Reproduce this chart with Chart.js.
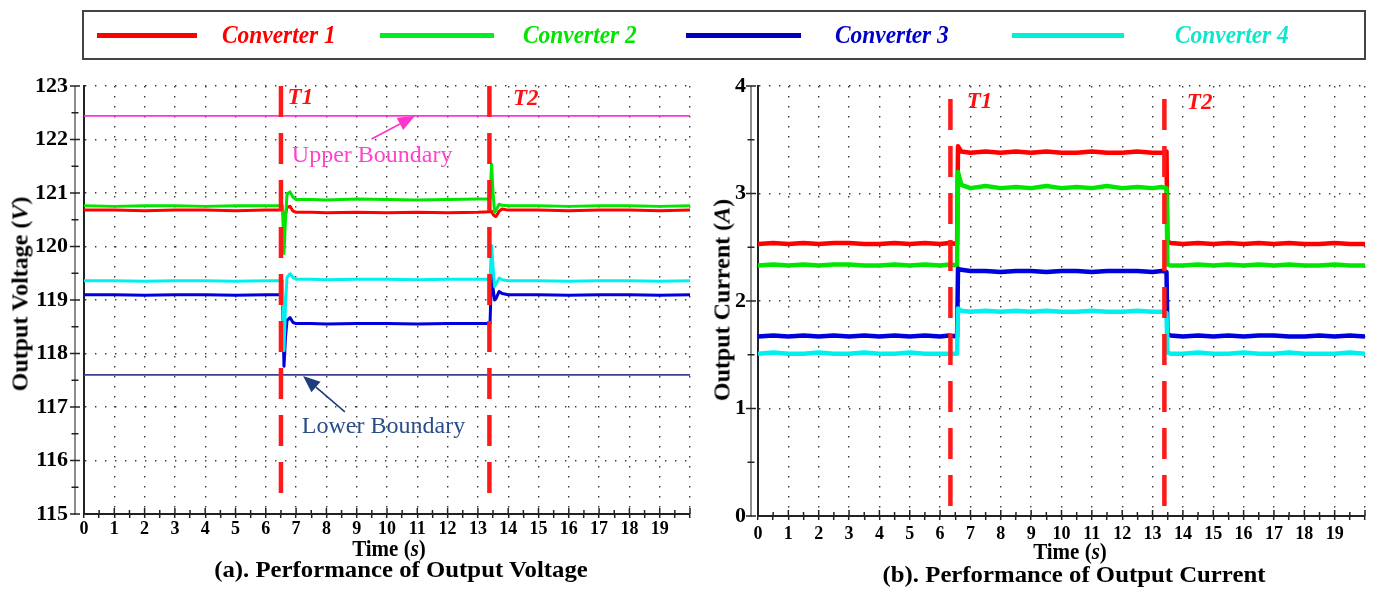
<!DOCTYPE html>
<html>
<head>
<meta charset="utf-8">
<script src="https://cdn.jsdelivr.net/npm/chart.js@4.4.1/dist/chart.umd.min.js"></script>
<style>
  body { margin: 0; background: #fff; width: 1376px; height: 594px; overflow: hidden; position: relative;
         font-family: "Liberation Serif", "Times New Roman", serif; }
  canvas { position: absolute; top: 0; }
  #cv1 { left: 0; }
  #cv2 { left: 700px; }
  #legend { position: absolute; left: 82px; top: 10px; width: 1280px; height: 46px; border: 2px solid #444; }
  #legend .ln { position: absolute; top: 21px; height: 5px; }
  #legend .lt { position: absolute; top: 8px; font: italic bold 26px "Liberation Serif", serif; line-height: 30px;
                white-space: nowrap; transform: scaleX(0.9); transform-origin: left center; }
  .ytitle, .xtitle, .caption { position: absolute; white-space: nowrap; font-weight: bold; color: #000; }
  .ytitle { font-size: 24px; transform: translate(-50%, -50%) rotate(-90deg); }
  .xtitle { font-size: 21px; transform: translate(-50%, -50%) scaleY(1.1); }
  .caption { font-size: 21px; transform: translate(-50%, -50%) scale(1.18, 1.1); }
</style>
</head>
<body>
<canvas id="cv1" width="700" height="594"></canvas>
<canvas id="cv2" width="676" height="594"></canvas>
<div id="legend"></div>
<div class="ytitle" style="left:20px;top:294px">Output Voltage (<i>V</i>)</div>
<div class="ytitle" style="left:722px;top:300px">Output Current (<i>A</i>)</div>
<div class="xtitle" style="left:389px;top:549px">Time (<i>s</i>)</div>
<div class="xtitle" style="left:1070px;top:552px">Time (<i>s</i>)</div>
<div class="caption" style="left:401px;top:570px">(a). Performance of Output Voltage</div>
<div class="caption" style="left:1074px;top:575px">(b). Performance of Output Current</div>
<script>
var seriesNames = ["Converter 1", "Converter 2", "Converter 3", "Converter 4"];

// output voltage
var timeV = [0, 1, 2, 3, 4, 5, 6, 6.5, 6.55, 6.6, 6.65, 6.7, 6.8, 6.9, 7, 7.5, 8, 9, 10, 11, 12, 13,
             13.4, 13.45, 13.5, 13.55, 13.6, 13.7, 13.8, 14, 15, 16, 17, 18, 19, 20];
var voltConv1 = [120.68, 120.68, 120.67, 120.68, 120.68, 120.67, 120.68, 120.68, 120.68, 120.48, 120.6, 120.74,
                 120.75, 120.66, 120.64, 120.64, 120.63, 120.64, 120.63, 120.64, 120.63, 120.64,
                 120.65, 120.66, 120.6, 120.57, 120.56, 120.66, 120.7, 120.68, 120.68, 120.67, 120.68, 120.68, 120.67, 120.68];
var voltConv2 = [120.76, 120.75, 120.76, 120.76, 120.75, 120.76, 120.76, 120.76, 120.76, 119.87, 120.5, 120.98,
                 121.02, 120.92, 120.88, 120.88, 120.87, 120.89, 120.88, 120.87, 120.88, 120.89,
                 120.89, 121.54, 121.0, 120.64, 120.68, 120.79, 120.77, 120.76, 120.76, 120.75, 120.76, 120.76, 120.75, 120.76];
var voltConv3 = [119.1, 119.1, 119.09, 119.1, 119.1, 119.09, 119.1, 119.1, 119.1, 117.76, 118.3, 118.62,
                 118.67, 118.58, 118.56, 118.56, 118.55, 118.56, 118.56, 118.55, 118.56, 118.56,
                 118.56, 119.47, 119.22, 119.0, 119.03, 119.16, 119.12, 119.1, 119.1, 119.09, 119.1, 119.1, 119.09, 119.1];
var voltConv4 = [119.36, 119.36, 119.35, 119.36, 119.36, 119.35, 119.36, 119.36, 119.36, 118.05, 118.9, 119.42,
                 119.49, 119.42, 119.39, 119.39, 119.38, 119.39, 119.39, 119.38, 119.39, 119.39,
                 119.39, 120.02, 119.62, 119.25, 119.3, 119.41, 119.38, 119.36, 119.36, 119.35, 119.36, 119.36, 119.35, 119.36];
var boundTime = [0, 20];
var upperBound = [122.44, 122.44];
var lowerBound = [117.6, 117.6];
var switchTimesV = [6.5, 13.38];

// output current
var timeI = [0, 0.5, 1, 1.5, 2, 2.5, 3, 3.5, 4, 4.5, 5, 5.5, 6, 6.3, 6.56, 6.59, 6.7,
             7, 7.5, 8, 8.5, 9, 9.5, 10, 10.5, 11, 11.5, 12, 12.5, 13, 13.3, 13.46, 13.49, 13.6,
             14, 14.5, 15, 15.5, 16, 16.5, 17, 17.5, 18, 18.5, 19, 19.5, 20];
var curConv1 = [2.53, 2.54, 2.53, 2.54, 2.53, 2.54, 2.54, 2.53, 2.53, 2.54, 2.53, 2.54, 2.53, 2.54, 2.53, 3.44, 3.39,
                3.38, 3.39, 3.38, 3.39, 3.38, 3.39, 3.38, 3.38, 3.39, 3.38, 3.38, 3.39, 3.38, 3.38, 3.39, 2.55, 2.54,
                2.53, 2.54, 2.53, 2.54, 2.53, 2.54, 2.53, 2.54, 2.53, 2.53, 2.54, 2.53, 2.53];
var curConv2 = [2.33, 2.34, 2.33, 2.34, 2.33, 2.34, 2.34, 2.33, 2.33, 2.34, 2.33, 2.34, 2.33, 2.34, 2.33, 3.2, 3.08,
                3.05, 3.07, 3.05, 3.06, 3.05, 3.07, 3.05, 3.06, 3.05, 3.07, 3.05, 3.06, 3.05, 3.06, 3.05, 2.34, 2.33,
                2.33, 2.34, 2.33, 2.34, 2.33, 2.34, 2.33, 2.34, 2.33, 2.33, 2.34, 2.33, 2.33];
var curConv3 = [1.67, 1.68, 1.67, 1.68, 1.67, 1.68, 1.67, 1.68, 1.67, 1.68, 1.67, 1.68, 1.67, 1.68, 1.67, 2.3, 2.29,
                2.28, 2.28, 2.27, 2.28, 2.28, 2.27, 2.28, 2.28, 2.27, 2.28, 2.28, 2.28, 2.27, 2.28, 2.27, 1.69, 1.68,
                1.67, 1.68, 1.67, 1.68, 1.67, 1.68, 1.68, 1.67, 1.67, 1.68, 1.67, 1.68, 1.67];
var curConv4 = [1.51, 1.52, 1.51, 1.51, 1.52, 1.51, 1.51, 1.52, 1.51, 1.51, 1.52, 1.51, 1.51, 1.51, 1.51, 1.93, 1.91,
                1.90, 1.91, 1.90, 1.91, 1.90, 1.91, 1.90, 1.90, 1.91, 1.90, 1.90, 1.91, 1.90, 1.90, 1.89, 1.52, 1.51,
                1.51, 1.52, 1.51, 1.51, 1.52, 1.51, 1.51, 1.52, 1.51, 1.51, 1.51, 1.52, 1.51];
var switchTimesI = [6.34, 13.39];

var traceColors = ["#ff0000", "#00e600", "#0000dd", "#00f0f0"];
var legendText = ["#ff0000", "#00e600", "#0000c8", "#10e6cc"];
var legendLine = ["#ff0000", "#00ee22", "#0000c0", "#00f0d8"];
var legendSpots = [[13, 100, 138], [296, 114, 439], [602, 115, 751], [928, 112, 1091]];

var serif = '"Liberation Serif", "Times New Roman", serif';

// legend box spanning both panels
var legend = document.getElementById("legend");
seriesNames.forEach(function (name, i) {
  var s = legendSpots[i];
  legend.insertAdjacentHTML("beforeend",
    '<span class="ln" style="left:' + s[0] + 'px;width:' + s[1] + 'px;background:' + legendLine[i] + '"></span>' +
    '<span class="lt" style="left:' + s[2] + 'px;color:' + legendText[i] + '">' + name + '</span>');
});

function pts(xs, ys) {
  return xs.map(function (x, i) { return { x: x, y: ys[i] }; });
}

// grey rule with cross ticks left of the frame, inner half of x ticks, arrows and notes
var figNotes = {
  id: "figNotes",
  afterDraw: function (chart, args, opts) {
    var ctx = chart.ctx, xs = chart.scales.x, ys = chart.scales.y, area = chart.chartArea;
    ctx.save();
    var gx = area.left - opts.rule;
    ctx.strokeStyle = "#8c8c8c";
    ctx.lineWidth = 2;
    ctx.beginPath(); ctx.moveTo(gx, area.top); ctx.lineTo(gx, area.bottom + 1); ctx.stroke();
    ctx.strokeStyle = "#222";
    ctx.lineWidth = 1.5;
    ys.ticks.forEach(function (t) {
      var py = ys.getPixelForValue(t.value), len = t.value % 1 === 0 ? 5 : 3.5;
      ctx.beginPath(); ctx.moveTo(gx - len, py); ctx.lineTo(gx + len, py); ctx.stroke();
    });
    xs.ticks.forEach(function (t) {
      var px = xs.getPixelForValue(t.value), len = t.value % 1 === 0 ? 6 : 4;
      ctx.beginPath(); ctx.moveTo(px, area.bottom); ctx.lineTo(px, area.bottom - len); ctx.stroke();
    });
    (opts.arrows || []).forEach(function (a) {
      var x1 = xs.getPixelForValue(a.from[0]), y1 = ys.getPixelForValue(a.from[1]);
      var x2 = xs.getPixelForValue(a.to[0]), y2 = ys.getPixelForValue(a.to[1]);
      var ang = Math.atan2(y2 - y1, x2 - x1), hl = 17, hw = 7;
      var bx = x2 - hl * Math.cos(ang), by = y2 - hl * Math.sin(ang);
      ctx.strokeStyle = a.color; ctx.fillStyle = a.color; ctx.lineWidth = 1.6;
      ctx.beginPath(); ctx.moveTo(x1, y1); ctx.lineTo(bx, by); ctx.stroke();
      ctx.beginPath();
      ctx.moveTo(x2, y2);
      ctx.lineTo(bx + hw * Math.sin(ang), by - hw * Math.cos(ang));
      ctx.lineTo(bx - hw * Math.sin(ang), by + hw * Math.cos(ang));
      ctx.closePath(); ctx.fill();
    });
    (opts.labels || []).forEach(function (l) {
      ctx.font = l.font;
      ctx.fillStyle = l.color;
      ctx.textAlign = "left";
      ctx.textBaseline = l.base || "alphabetic";
      ctx.fillText(l.text, xs.getPixelForValue(l.at[0]), ys.getPixelForValue(l.at[1]));
    });
    ctx.restore();
  }
};

function panel(canvasId, cfg) {
  var gridColor = function (c) { return c.tick && c.tick.value % 1 === 0 ? "#3a3a3a" : "rgba(0,0,0,0)"; };
  var datasets = cfg.traces.map(function (tr, i) {
    return { label: seriesNames[i], data: pts(cfg.time, tr), borderColor: traceColors[i],
             borderWidth: cfg.widths[i], order: cfg.orders[i] };
  });
  cfg.extras.forEach(function (d) { datasets.push(d); });
  cfg.switches.forEach(function (t) {
    datasets.push({ data: [{ x: t, y: cfg.dashSpan[0] }, { x: t, y: cfg.dashSpan[1] }], borderColor: "#ff1a1a",
                    borderWidth: 4.5, borderDash: [31, 16], borderCapStyle: "butt", order: 0 });
  });
  return new Chart(document.getElementById(canvasId), {
    type: "line",
    data: { datasets: datasets },
    options: {
      responsive: false,
      animation: false,
      events: [],
      layout: { padding: cfg.padding },
      elements: { point: { radius: 0 }, line: { tension: 0, borderJoinStyle: "round" } },
      plugins: { legend: { display: false }, tooltip: { enabled: false }, figNotes: cfg.notes },
      scales: {
        x: {
          type: "linear", min: 0, max: 20,
          afterFit: function (s) { s.height = cfg.xHeight; },
          ticks: { stepSize: 0.5, autoSkip: false, maxRotation: 0, minRotation: 0, padding: cfg.xPad, color: "#000",
                   font: { family: serif, size: 18, weight: "bold" },
                   callback: function (v) { return v % 1 === 0 && v < 20 ? v : ""; } },
          grid: { color: gridColor, lineWidth: 1.4, tickLength: 4, tickColor: "#222", tickWidth: 1.5 },
          border: { display: true, color: "#222", width: 2, dash: [1.4, 8.6] }
        },
        y: {
          min: cfg.yRange[0], max: cfg.yRange[1],
          afterFit: function (s) { s.width = cfg.yWidth; },
          ticks: { stepSize: 0.5, autoSkip: false, padding: cfg.yPad, color: "#000",
                   font: { family: serif, size: 22, weight: "bold" },
                   callback: function (v) { return v % 1 === 0 ? v : ""; } },
          grid: { color: gridColor, lineWidth: 1.4, drawTicks: false },
          border: { display: true, color: "#222", width: 2, dash: [1.4, 8.6] }
        }
      }
    },
    plugins: [figNotes]
  });
}

var noteFont = "24px " + serif;
var markFont = "italic bold 23px " + serif;

panel("cv1", {
  time: timeV,
  traces: [voltConv1, voltConv2, voltConv3, voltConv4],
  widths: [3, 3, 3, 3],
  orders: [4, 3, 2, 1],
  extras: [
    { data: pts(boundTime, upperBound), borderColor: "#ff33dd", borderWidth: 1.8, order: 5 },
    { data: pts(boundTime, lowerBound), borderColor: "#3a3f96", borderWidth: 1.8, order: 5 }
  ],
  switches: switchTimesV,
  dashSpan: [123, 115.3],
  yRange: [115, 123],
  padding: { left: 0, top: 86, right: 10, bottom: 0 },
  yWidth: 84, xHeight: 80, xPad: 1, yPad: 16,
  notes: {
    rule: 9,
    arrows: [
      { from: [9.49, 122.01], to: [10.92, 122.44], color: "#ff33cc" },
      { from: [8.61, 116.91], to: [7.23, 117.58], color: "#1f3d7a" }
    ],
    labels: [
      { text: "T1", at: [6.72, 122.78], font: markFont, color: "#ff1010", base: "middle" },
      { text: "T2", at: [14.16, 122.76], font: markFont, color: "#ff1010", base: "middle" },
      { text: "Upper Boundary", at: [6.86, 121.58], font: noteFont, color: "#ff44cc" },
      { text: "Lower Boundary", at: [7.19, 116.51], font: noteFont, color: "#2a4d8a" }
    ]
  }
});

panel("cv2", {
  time: timeI,
  traces: [curConv1, curConv2, curConv3, curConv4],
  widths: [4.5, 4.5, 4.5, 4.5],
  orders: [4, 3, 2, 1],
  extras: [],
  switches: switchTimesI,
  dashSpan: [3.88, 0.07],
  yRange: [0, 4],
  padding: { left: 0, top: 86, right: 11, bottom: 0 },
  yWidth: 58, xHeight: 78, xPad: 4, yPad: 12,
  notes: {
    rule: 7,
    labels: [
      { text: "T1", at: [6.88, 3.85], font: markFont, color: "#ff1010", base: "middle" },
      { text: "T2", at: [14.13, 3.84], font: markFont, color: "#ff1010", base: "middle" }
    ]
  }
});
</script>
</body>
</html>
